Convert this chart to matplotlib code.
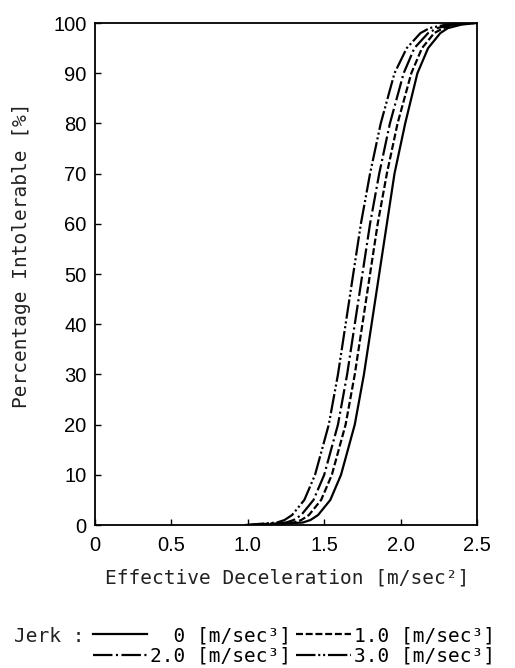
import matplotlib
matplotlib.use("Agg")
import matplotlib.pyplot as plt

# percentage levels and the deceleration at which each curve reaches them
pct = [0, 0.5, 1, 2, 5, 10, 20, 30, 40, 50, 60, 70, 80, 90, 95, 98, 99, 99.7, 100]

jerk_0 = [1.05, 1.36, 1.41, 1.46, 1.54, 1.61, 1.70, 1.76, 1.81, 1.86, 1.91, 1.96,
          2.03, 2.11, 2.18, 2.26, 2.31, 2.40, 2.50]
jerk_1 = [1.02, 1.30, 1.35, 1.40, 1.48, 1.55, 1.64, 1.70, 1.75, 1.80, 1.85, 1.91,
          1.98, 2.07, 2.14, 2.22, 2.28, 2.37, 2.48]
jerk_2 = [1.00, 1.25, 1.30, 1.35, 1.43, 1.50, 1.59, 1.65, 1.70, 1.75, 1.80, 1.86,
          1.93, 2.02, 2.09, 2.18, 2.24, 2.34, 2.46]
jerk_3 = [0.98, 1.19, 1.24, 1.29, 1.37, 1.44, 1.53, 1.59, 1.64, 1.69, 1.74, 1.80,
          1.87, 1.96, 2.04, 2.13, 2.19, 2.30, 2.44]

labels = ["  0 [m/sec³]", "1.0 [m/sec³]", "2.0 [m/sec³]", "3.0 [m/sec³]"]
styles = ["-", (0, (5, 2)), (0, (14, 2.5, 1.5, 2.5)), (0, (14, 2, 1.5, 2, 1.5, 2))]

xticks = [0, 0.5, 1.0, 1.5, 2.0, 2.5]
xtick_labels = ["0", "0.5", "1.0", "1.5", "2.0", "2.5"]
yticks = list(range(0, 101, 10))

plt.rcParams["lines.scale_dashes"] = False
mono = "DejaVu Sans Mono"
sans = "Liberation Sans"

fig = plt.figure(figsize=(5.15, 6.68), dpi=100)
ax = fig.add_axes([0.1845, 0.214, 0.7417, 0.7515])

lines = []
for xs, ls, lab in zip([jerk_0, jerk_1, jerk_2, jerk_3], styles, labels):
    ln, = ax.plot(xs, pct, color="black", linestyle=ls, linewidth=1.6, label=lab)
    lines.append(ln)

ax.set_xlim(0, 2.5)
ax.set_ylim(0, 100)
ax.set_xticks(xticks)
ax.set_xticklabels(xtick_labels, fontfamily=sans, fontsize=14.5)
ax.set_yticks(yticks)
ax.set_yticklabels([str(v) for v in yticks], fontfamily=sans, fontsize=14.5)
ax.tick_params(direction="in", length=4, width=1)
ax.tick_params(axis="x", pad=8)
ax.tick_params(axis="y", pad=6)
for sp in ax.spines.values():
    sp.set_linewidth(1.3)

fig.text(22 / 515, 1 - 255 / 668, "Percentage Intolerable [%]", rotation=90,
         ha="center", va="center", family=mono, fontsize=14, color="#222222")
fig.text(287 / 515, 1 - 578 / 668, "Effective Deceleration [m/sec²]",
         ha="center", va="center", family=mono, fontsize=14, color="#222222")

# legend: row 1 -> 0, 1.0 ; row 2 -> 2.0, 3.0
fig.text(14 / 515, 1 - 637 / 668, "Jerk :", ha="left", va="center",
         family=mono, fontsize=14, color="#222222")
order = [0, 2, 1, 3]
fig.legend([lines[i] for i in order], [labels[i] for i in order],
           loc="upper left", bbox_to_anchor=(93 / 515, 1 - 626 / 668),
           ncol=2, frameon=False, prop={"family": mono, "size": 14},
           handlelength=2.8, handletextpad=0.15, columnspacing=0.25,
           labelspacing=0.1, borderpad=0, borderaxespad=0)

fig.savefig("out.png", dpi=100)
